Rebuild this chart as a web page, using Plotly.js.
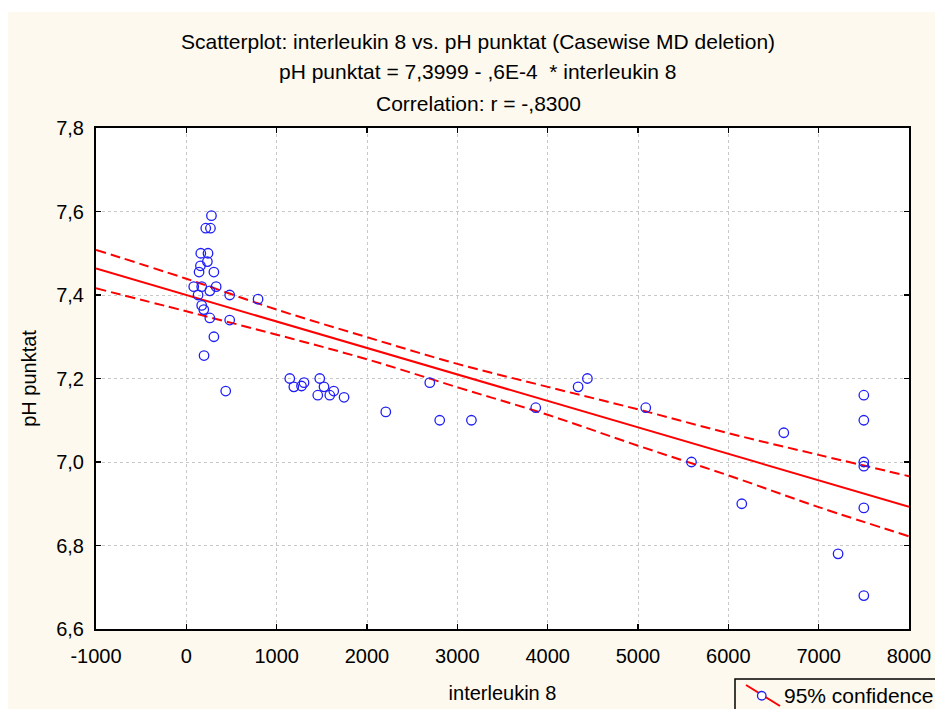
<!DOCTYPE html>
<html>
<head>
<meta charset="utf-8">
<script src="https://cdn.plot.ly/plotly-3.0.1.min.js"></script>
<style>
  html, body { margin: 0; padding: 0; background: #ffffff; }
  #chart { position: absolute; left: 8px; top: 12px; width: 927px; height: 697px; }
</style>
</head>
<body>
<div id="chart"></div>
<script>
// ---- data ----
const interleukin8 = [278, 215, 267, 160, 240, 233, 156, 141, 305, 82, 170, 260, 330, 130, 480, 794, 170, 193, 260, 480, 305, 196, 436,
  1145, 1190, 1275, 1303, 1477, 1524, 1455, 1588, 1632, 1746,
  2208, 2695, 2805, 3156, 3868, 4337, 4440, 5086, 5592, 6149, 6614, 7215,
  7500, 7500, 7500, 7500, 7500, 7500];
const phPunktat = [7.59, 7.56, 7.56, 7.50, 7.50, 7.48, 7.47, 7.455, 7.455, 7.42, 7.42, 7.41, 7.42, 7.40, 7.40, 7.39, 7.375, 7.365, 7.345, 7.34, 7.30, 7.255, 7.17,
  7.20, 7.18, 7.182, 7.19, 7.20, 7.18, 7.16, 7.16, 7.17, 7.155,
  7.12, 7.19, 7.10, 7.10, 7.13, 7.18, 7.20, 7.13, 7.00, 6.90, 7.07, 6.78,
  7.16, 7.10, 7.00, 6.99, 6.89, 6.68];

const fitX = [-1000, 8000];
const fitY = [7.4633, 6.8927];

const bandX = [-1000, 0, 1000, 2000, 3000, 4000, 5000, 6000, 7000, 8000];
const bandUpper = [7.508, 7.439, 7.365, 7.299, 7.235, 7.180, 7.126, 7.069, 7.017, 6.966];
const bandLower = [7.416, 7.361, 7.305, 7.246, 7.179, 7.113, 7.039, 6.968, 6.892, 6.822];

const xTickVals = [-1000, 0, 1000, 2000, 3000, 4000, 5000, 6000, 7000, 8000];
const xTickText = ['-1000', '0', '1000', '2000', '3000', '4000', '5000', '6000', '7000', '8000'];
const yTickVals = [6.6, 6.8, 7.0, 7.2, 7.4, 7.6, 7.8];
const yTickText = ['6,6', '6,8', '7,0', '7,2', '7,4', '7,6', '7,8'];

const titleLines = [
  'Scatterplot: interleukin 8 vs. pH punktat (Casewise MD deletion)',
  'pH punktat = 7,3999 - ,6E-4 \u00a0* interleukin 8',
  'Correlation: r = -,8300'
];
const legendLabel = '95% confidence';

// ---- geometry helpers (pixel -> paper) ----
const W = 927, H = 697, offX = 8, offY = 12;
const M = { l: 88, r: 26, t: 116, b: 80 };
const plotL = offX + M.l, plotR = offX + W - M.r, plotT = offY + M.t, plotB = offY + H - M.b;
const px = v => (v - plotL) / (plotR - plotL);
const py = v => (plotB - v) / (plotB - plotT);

const FONT = 'Liberation Sans, Arial, sans-serif';
const RED = '#ff0000';
const BLUE = '#1f1ff5';

const traces = [
  { x: bandX, y: bandUpper, type: 'scatter', mode: 'lines', line: { color: RED, width: 2, dash: '10px,5px', shape: 'spline' }, hoverinfo: 'skip', showlegend: false },
  { x: bandX, y: bandLower, type: 'scatter', mode: 'lines', line: { color: RED, width: 2, dash: '10px,5px', shape: 'spline' }, hoverinfo: 'skip', showlegend: false },
  { x: fitX, y: fitY, type: 'scatter', mode: 'lines', line: { color: RED, width: 2 }, showlegend: false },
  { x: interleukin8, y: phPunktat, type: 'scatter', mode: 'markers',
    marker: { symbol: 'circle-open', size: 9.5, color: BLUE, line: { width: 1.3, color: BLUE } }, showlegend: false }
];

const titleY = [41, 72, 103];
const annotations = titleLines.map((t, i) => ({
  text: t, xref: 'paper', yref: 'paper', x: px(478), y: py(titleY[i]),
  xanchor: 'center', yanchor: 'middle', showarrow: false,
  font: { family: FONT, size: 21, color: '#000' }
}));
annotations.push({
  text: legendLabel, xref: 'paper', yref: 'paper', x: px(782), y: py(695),
  xanchor: 'left', yanchor: 'middle', showarrow: false,
  font: { family: FONT, size: 21, color: '#000' }
});

const shapes = [
  { type: 'rect', xref: 'paper', yref: 'paper', x0: px(735), x1: px(960), y0: py(679), y1: py(730),
    line: { color: '#000', width: 1.5 }, fillcolor: 'rgba(0,0,0,0)' },
  { type: 'line', xref: 'paper', yref: 'paper', x0: px(746), y0: py(685), x1: px(780), y1: py(706),
    line: { color: RED, width: 2 } },
  { type: 'circle', xref: 'paper', yref: 'paper', x0: px(757.5), x1: px(766), y0: py(691.5), y1: py(700),
    line: { color: BLUE, width: 1.3 }, fillcolor: '#ffffff' }
];

const axisCommon = {
  showline: true, linecolor: '#000', linewidth: 2, mirror: 'ticks',
  ticks: 'inside', ticklen: 5, tickwidth: 1.5, tickcolor: '#000',
  showgrid: true, gridcolor: '#c8c8c8', gridwidth: 1, griddash: 'dot',
  zeroline: false, tickfont: { family: FONT, size: 20, color: '#000' },
  tickmode: 'array', automargin: false
};

const layout = {
  width: W, height: H,
  margin: M,
  paper_bgcolor: '#fdf9ee', plot_bgcolor: '#ffffff',
  showlegend: false,
  xaxis: Object.assign({}, axisCommon, {
    range: [-1000, 8000], tickvals: xTickVals, ticktext: xTickText, ticklabelstandoff: 8,
    title: { text: 'interleukin 8', font: { family: FONT, size: 20, color: '#000' }, standoff: 20 }
  }),
  yaxis: Object.assign({}, axisCommon, {
    range: [6.6, 7.8], tickvals: yTickVals, ticktext: yTickText, ticklabelstandoff: 6,
    title: { text: 'pH punktat', font: { family: FONT, size: 20, color: '#000' }, standoff: 14 }
  }),
  annotations: annotations,
  shapes: shapes
};

Plotly.newPlot('chart', traces, layout, { staticPlot: true, displayModeBar: false });
</script>
</body>
</html>
